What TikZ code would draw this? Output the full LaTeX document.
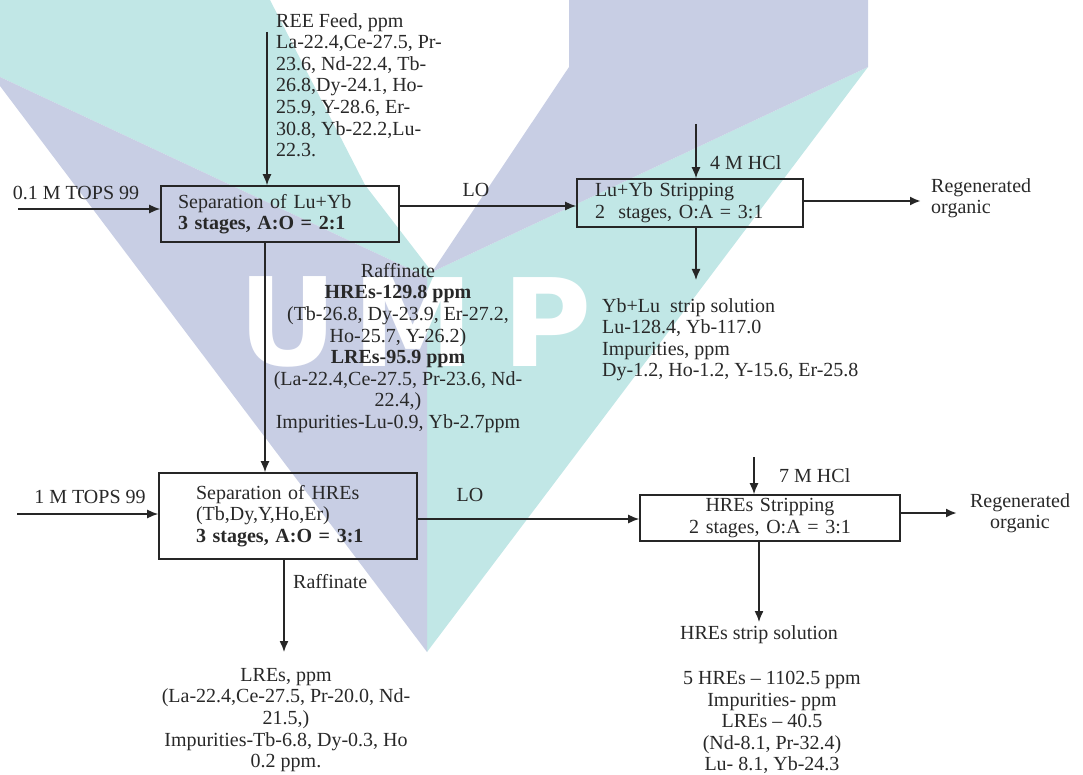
\documentclass[tikz,border=0pt]{standalone}
\usepackage{fontspec}
\setmainfont{Liberation Serif}
\newfontfamily\logofont{DejaVu Sans}
\usepackage{xcolor}
\usetikzlibrary{arrows.meta, positioning, calc}

\definecolor{umplav}{RGB}{200,206,228}
\definecolor{umpteal}{RGB}{193,231,230}
\definecolor{ink}{RGB}{40,40,40}

\begin{document}
\begin{tikzpicture}[x=1pt, y=-1pt,
    font=\fontsize{20}{21.6}\selectfont,
    stage/.style={rectangle, draw=black!85, line width=1.6pt, inner ysep=0pt, text=ink},
    note/.style={inner sep=0pt, text=ink},
    logo/.style={inner sep=0pt, text=white, font=\logofont\bfseries\fontsize{122}{122}\selectfont},
    arrow/.style={line width=1.4pt, draw=black!85, -{Latex[length=11pt,width=9pt]}},
    boldarrow/.style={arrow, line width=2.2pt}]

\useasboundingbox (0,0) rectangle (1083,775);

% watermark
\fill[umpteal] (0,0) -- (270,0) -- (365,185) -- (432,272) -- (868,67) -- (427,652) -- (427,277) -- (0,77) -- cycle;
\fill[umplav] (0,77) -- (427,277) -- (427,652) -- (0,86) -- cycle;
\fill[umplav] (569,0) -- (868,0) -- (868,67) -- (432,272) -- (569,67) -- cycle;
\node (u) [logo] at (288,322) {U};
\node (m) [logo] at (413,322) {M};
\node (p) [logo] at (547,322) {P};

% stages
\node (sep1) [stage, minimum width=238pt, minimum height=56pt, text width=204pt, inner xsep=17pt, align=left] at (280,214) {Separation of Lu+Yb\\\textbf{3 stages, A:O = 2:1}};
\node (strip1) [stage, minimum width=226pt, minimum height=48pt, text width=190pt, inner xsep=18pt, align=left] at (690,203) {Lu+Yb Stripping\\2\ \ stages, O:A = 3:1};
\node (sep2) [stage, minimum width=258pt, minimum height=86pt, text width=184pt, inner xsep=37pt, align=left] at (288,516) {Separation of HREs\\(Tb,Dy,Y,Ho,Er)\\\textbf{3 stages, A:O = 3:1}};
\node (strip2) [stage, minimum width=260pt, minimum height=46pt, text width=224pt, inner xsep=18pt, align=center] at (770,518) {HREs Stripping\\2 stages, O:A = 3:1};

% labels
\node (tops1) [note] at (76,193) {0.1 M TOPS 99};
\node (feedtxt) [note, anchor=north west, align=left] at (276,13) {REE Feed, ppm\\La-22.4,Ce-27.5, Pr-\\23.6, Nd-22.4, Tb-\\26.8,Dy-24.1, Ho-\\25.9, Y-28.6, Er-\\30.8, Yb-22.2,Lu-\\22.3.};
\node (lo1) [note] at (476,190) {LO};
\node (acid1) [note, anchor=west] at (710,163) {4 M HCl};
\node (org1) [note, anchor=north west, align=left] at (931,178) {Regenerated\\organic};
\node (soltxt1) [note, anchor=north west, align=left] at (602,298) {Yb+Lu\ \ strip solution\\Lu-128.4, Yb-117.0\\Impurities, ppm\\Dy-1.2, Ho-1.2, Y-15.6, Er-25.8};
\node (raff1) [note, anchor=north, align=center] at (398,263) {Raffinate\\\textbf{HREs-129.8 ppm}\\(Tb-26.8, Dy-23.9, Er-27.2,\\Ho-25.7, Y-26.2)\\\textbf{LREs-95.9 ppm}\\(La-22.4,Ce-27.5, Pr-23.6, Nd-\\22.4,)\\Impurities-Lu-0.9, Yb-2.7ppm};
\node (tops2) [note] at (90,497) {1 M TOPS 99};
\node (lo2) [note] at (470,495) {LO};
\node (acid2) [note, anchor=west] at (779,476) {7 M HCl};
\node (org2) [note, anchor=north, align=center] at (1020,493) {Regenerated\\organic};
\node (soltxt2) [note] at (759,635) {HREs strip solution};
\node (hres) [note, anchor=north, align=center] at (772,671) {5 HREs – 1102.5 ppm\\Impurities- ppm\\LREs – 40.5\\(Nd-8.1, Pr-32.4)\\Lu- 8.1, Yb-24.3};
\node (raff2) [note, anchor=west] at (293,582) {Raffinate};
\node (lres) [note, anchor=north, align=center] at (286,668) {LREs, ppm\\(La-22.4,Ce-27.5, Pr-20.0, Nd-\\21.5,)\\Impurities-Tb-6.8, Dy-0.3, Ho\\0.2 ppm.};

% free ends
\coordinate (in1) at (18,209);
\coordinate (feed) at (267,32);
\coordinate (hcl1) at (696,124);
\coordinate (out1) at (921,201);
\coordinate (sol1) at (696,280);
\coordinate (in2) at (17,514);
\coordinate (hcl2) at (754,457);
\coordinate (out2) at (957,513);
\coordinate (sol2) at (759,622);
\coordinate (lre) at (284,652);

% streams
\draw [arrow] (in1) -- (sep1.west |- in1);
\draw [arrow] (feed) -- (feed |- sep1.north);
\draw [arrow] ([yshift=8pt]sep1.east) -- ([yshift=-3pt]strip1.west);
\draw [arrow] (hcl1) -- (hcl1 |- strip1.north);
\draw [boldarrow] (strip1.east |- out1) -- (out1);
\draw [arrow] (strip1.south -| sol1) -- (sol1);
\draw [arrow] ([xshift=-15pt]sep1.south) -- ([xshift=-23pt]sep2.north);
\draw [arrow] (in2) -- (sep2.west |- in2);
\draw [arrow] ([yshift=-3pt]sep2.east) -- ([yshift=-1pt]strip2.west);
\draw [arrow] (hcl2) -- (hcl2 |- strip2.north);
\draw [boldarrow] (strip2.east |- out2) -- (out2);
\draw [arrow] (strip2.south -| sol2) -- (sol2);
\draw [arrow] (sep2.south -| lre) -- (lre);

\end{tikzpicture}
\end{document}
